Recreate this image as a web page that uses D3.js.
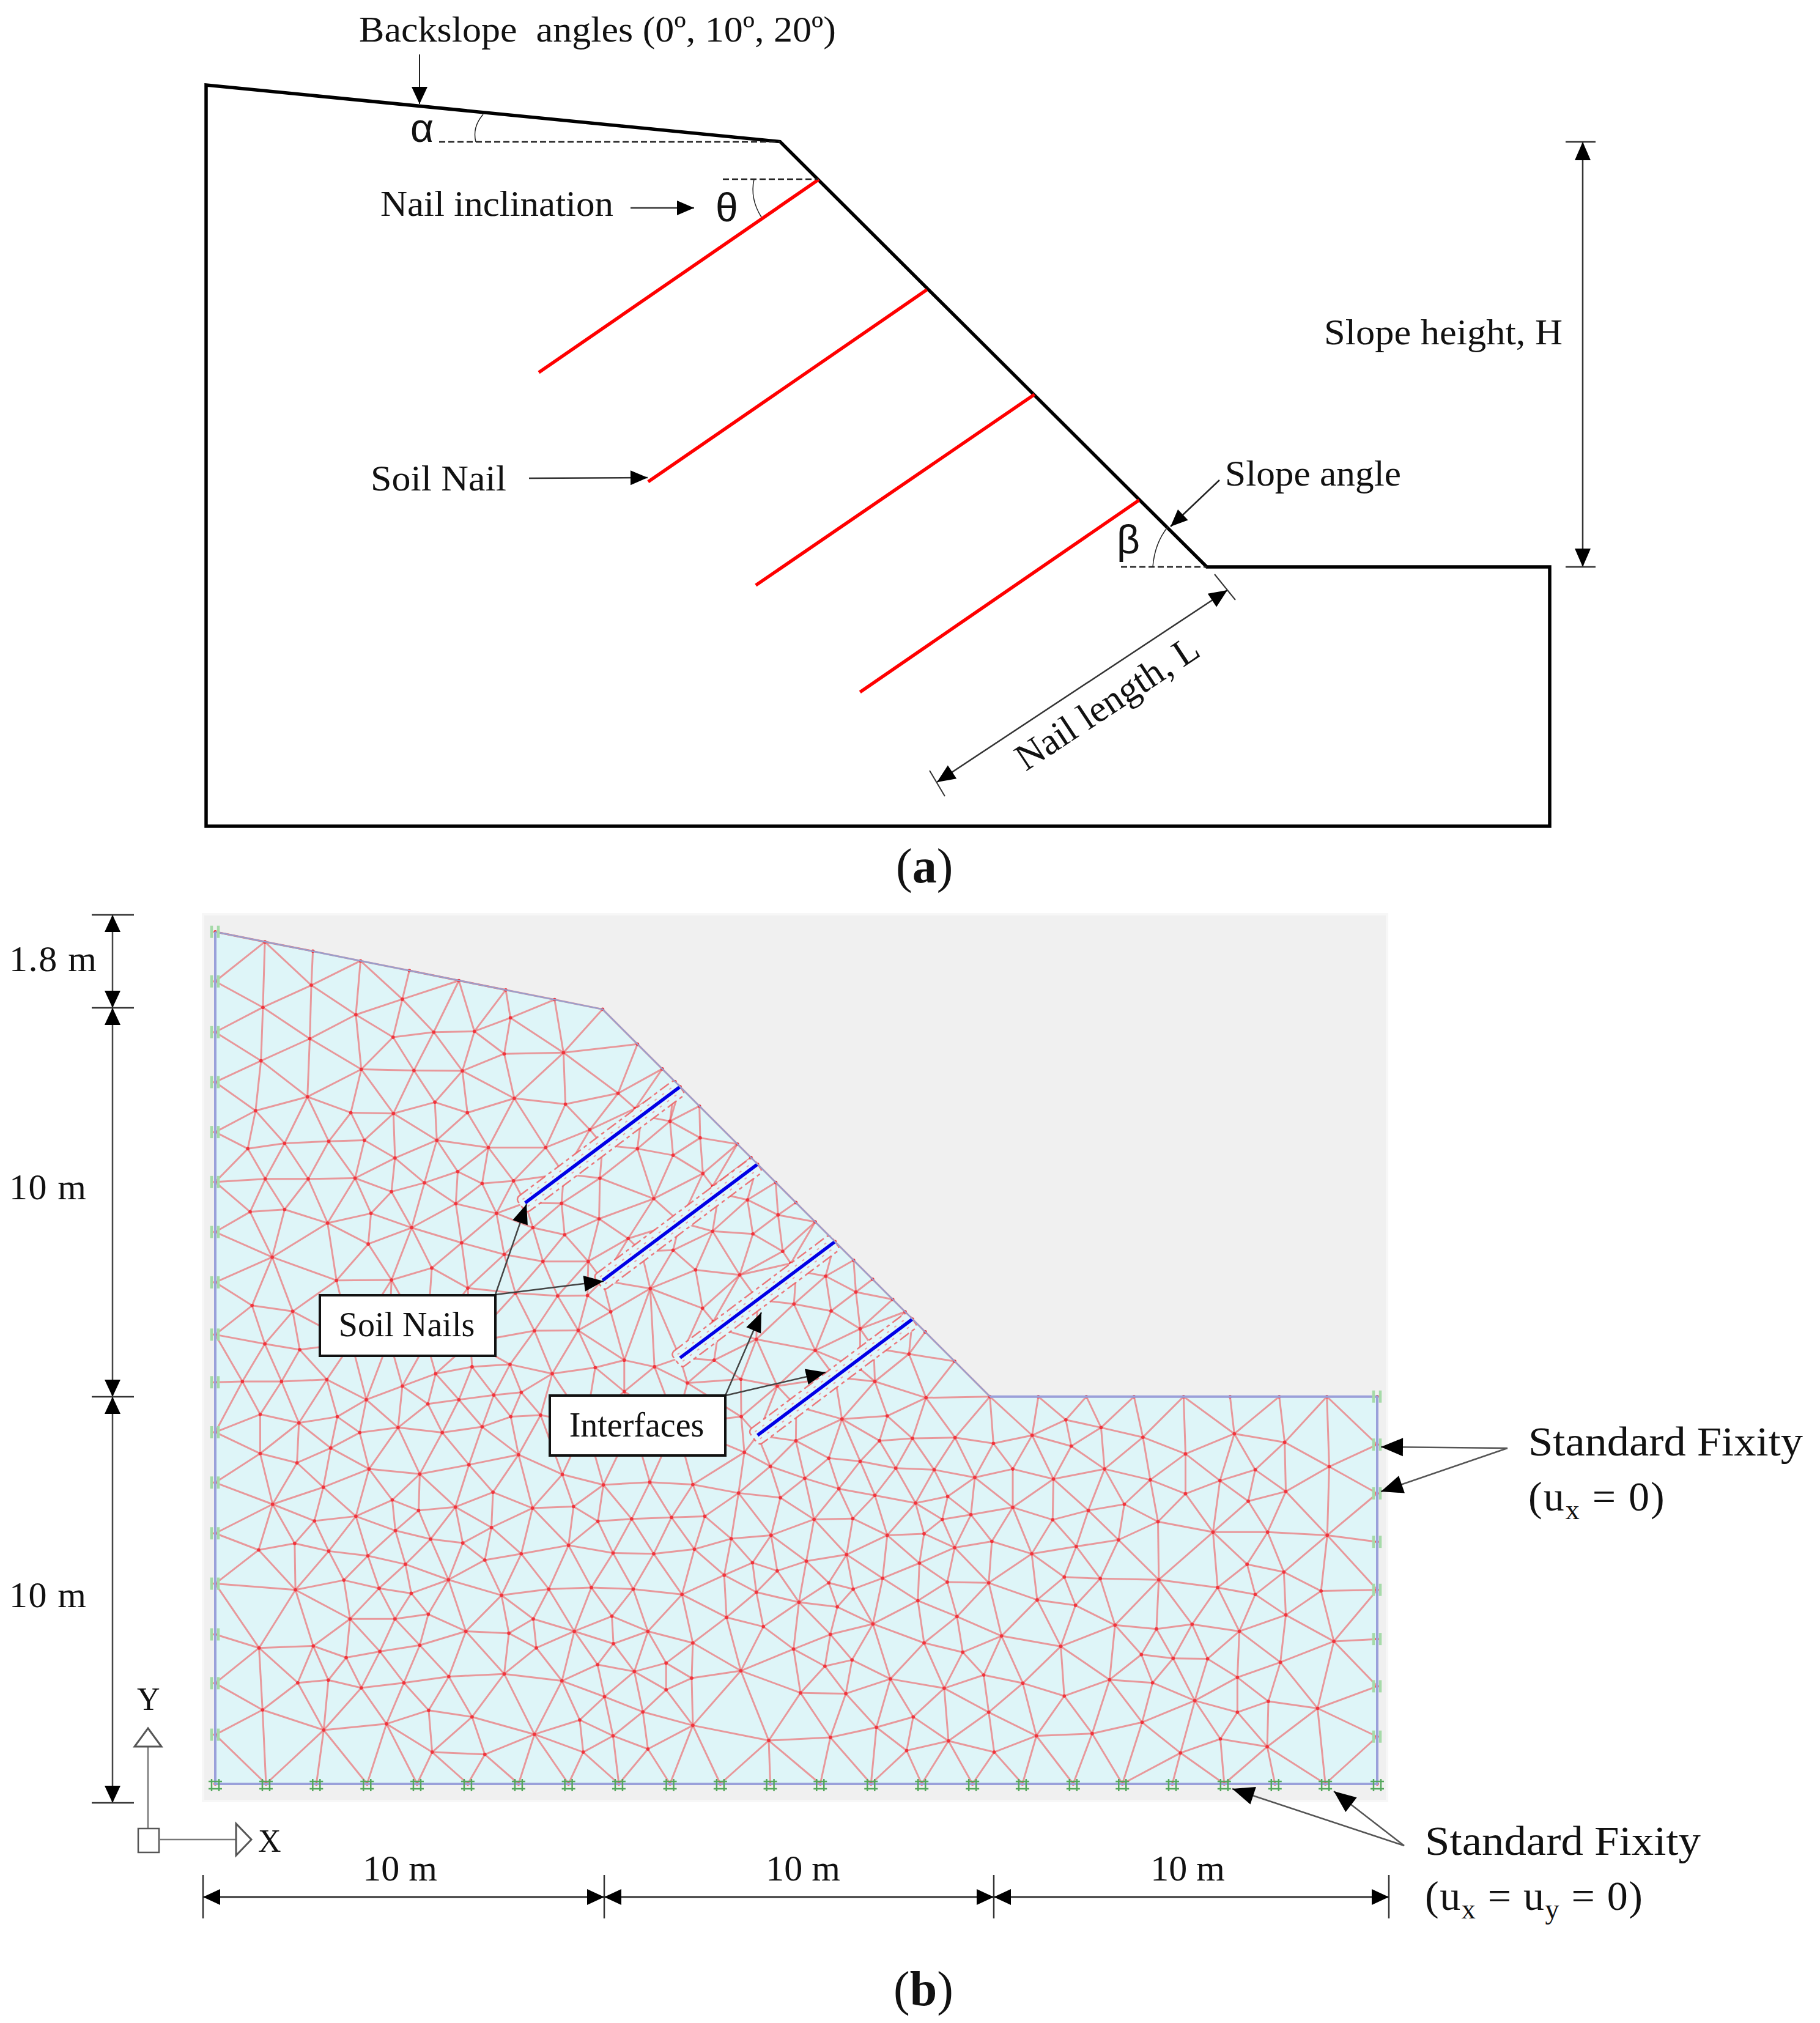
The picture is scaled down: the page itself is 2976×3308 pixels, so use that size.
<!DOCTYPE html>
<html>
<head>
<meta charset="utf-8">
<script src="https://cdn.jsdelivr.net/npm/d3@7"></script>
<style>
  body { margin: 0; background: #fff; }
  text { font-family: "Liberation Serif", serif; fill: #111; white-space: pre; }
  .greek { font-family: "Liberation Sans", sans-serif; }
</style>
</head>
<body>
<div id="fig"></div>
<script>
// panel (a) geometry, in metres from the lower left corner of the sketch
var slopeOutline = [[0, 17.41], [13.49, 16.08], [23.52, 6.09], [31.58, 6.09], [31.58, 0], [0, 0]];
var sketchNails = [
  [[14.40, 15.19], [7.82, 10.66]],
  [[16.94, 12.60], [10.39, 8.09]],
  [[19.47, 10.14], [12.92, 5.66]],
  [[21.93, 7.66], [15.37, 3.15]]
];

// panel (b) model, in metres
var modelOutline = [[0, 0], [0, 22], [10, 20], [20, 10], [30, 10], [30, 0]];
var modelNails = [
  [[8, 15], [12, 18]],
  [[10, 13], [14, 16]],
  [[12, 11], [16, 14]],
  [[14, 9], [18, 12]]
];
var nailNodes = [
  [8, 15], [9, 15.75], [10, 16.5], [11, 17.25],
  [10, 13], [11, 13.75], [12, 14.5], [13, 15.25],
  [12, 11], [13, 11.75], [14, 12.5], [15, 13.25],
  [14, 9], [15, 9.75], [16, 10.5], [17, 11.25]
];
var leftY = [22, 20.72, 19.41, 18.12, 16.83, 15.54, 14.25, 12.95, 11.60, 10.37, 9.08, 7.78, 6.47, 5.17, 3.86, 2.60, 1.27];
var rightY = [10, 8.76, 7.50, 6.25, 5.01, 3.74, 2.52, 1.22];
var bottomX = [0, 1.31, 2.61, 3.92, 5.21, 6.52, 7.83, 9.12, 10.42, 11.74, 13.04, 14.33, 15.62, 16.93, 18.24, 19.55, 20.84, 22.15, 23.42, 24.71, 26.05, 27.36, 28.66, 30];
var crestNodes = [[1.28, 21.74], [2.52, 21.50], [3.75, 21.25], [5.01, 21.00], [6.29, 20.74], [7.50, 20.50], [8.76, 20.25], [10, 20]];
var slopeNodes = [[10.90, 19.10], [11.54, 18.46], [11.87, 18.13], [12, 18], [12.50, 17.50], [13.48, 16.52], [13.83, 16.17], [14, 16], [14.47, 15.53], [14.99, 15.01], [15.49, 14.51], [16, 14], [16.48, 13.52], [16.97, 13.03], [17.49, 12.51], [17.81, 12.19], [18, 12], [18.33, 11.67], [19.09, 10.91], [20, 10]];
var benchNodes = [[21.25, 10], [22.49, 10], [23.72, 10], [25.00, 10], [26.20, 10], [27.47, 10], [28.70, 10]];
var upperNodes = [
  [1.23, 20.05], [2.48, 20.62], [3.63, 19.86], [4.83, 20.26], [2.44, 19.24], [1.18, 18.67], [3.77, 18.45], [4.59, 19.28], [5.64, 19.41], [6.69, 19.43],
  [7.62, 19.78], [7.46, 18.85], [8.99, 18.88], [5.13, 18.42], [6.38, 18.41], [2.38, 17.74], [1.04, 17.38], [3.50, 17.33], [4.60, 17.31], [5.67, 17.60],
  [6.51, 17.33], [7.72, 17.70], [9.04, 17.55], [10.40, 17.83], [11.74, 17.11], [1.79, 16.54], [0.84, 16.40], [2.93, 16.59], [3.85, 16.62], [5.72, 16.62],
  [7.05, 16.43], [8.53, 16.43], [4.64, 16.16], [1.29, 15.62], [2.40, 15.62], [3.61, 15.64], [6.26, 15.81], [5.40, 15.52], [6.89, 15.50], [7.70, 15.57],
  [4.55, 15.29], [0.90, 14.77], [1.79, 14.83], [2.90, 14.48], [4.02, 14.73], [5.07, 14.36], [6.21, 14.98], [7.26, 14.73], [8.20, 14.36], [8.94, 14.99],
  [9.02, 14.18], [9.91, 14.59], [9.93, 15.64], [10.90, 16.40], [11.82, 16.23], [9.67, 16.89], [10.84, 17.44], [11.32, 15.11], [6.36, 13.97], [3.95, 13.94],
  [1.47, 13.60], [7.46, 13.67], [8.46, 13.49], [9.63, 13.49], [10.66, 14.08], [11.82, 13.78], [5.59, 13.32], [6.52, 12.80], [4.55, 13.01], [3.13, 13.00],
  [7.75, 12.67], [8.84, 12.60], [9.61, 12.61], [11.23, 12.79], [10.21, 12.19], [0.95, 12.35], [2.00, 12.20], [8.24, 11.70], [9.37, 11.71],
  [12.52, 16.68], [12.59, 15.76], [12.84, 15.43], [13.74, 15.08], [14.53, 14.69], [12.84, 14.27], [13.88, 14.20], [14.65, 13.75], [14.86, 13.44], [12.40, 13.27],
  [13.54, 13.14], [15.76, 13.11], [16.54, 12.70], [14.94, 12.39], [12.58, 12.28], [15.90, 12.21], [16.65, 11.75], [12.86, 11.94],
  [3.52, 11.39], [4.49, 11.48], [5.46, 11.40], [6.59, 11.40], [9.57, 9.30], [10.78, 9.30], [11.90, 9.30]
];
var lowerLeftNodes = [
  [1.28, 11.36], [2.18, 11.21], [2.88, 10.44], [0.70, 10.39], [1.71, 10.39], [3.90, 9.92], [1.16, 9.54], [2.16, 9.32], [3.15, 9.48], [4.83, 10.27],
  [5.69, 10.59], [6.63, 10.77], [7.61, 10.83], [8.70, 10.59], [9.81, 10.75], [10.56, 10.94], [11.34, 10.77], [10.56, 10.13], [6.29, 9.92], [7.19, 10.04],
  [7.90, 10.11], [5.49, 9.81], [7.63, 9.48], [8.40, 9.52], [4.72, 9.20], [3.73, 9.07], [5.86, 9.07], [6.89, 9.22], [1.16, 8.53], [2.11, 8.29],
  [2.98, 8.67], [3.97, 8.13], [5.28, 8.00], [6.55, 8.24], [7.83, 8.50], [8.96, 7.99], [10.02, 7.72], [11.22, 7.79], [2.79, 7.66], [1.48, 7.22],
  [2.56, 6.79], [3.63, 6.91], [4.57, 7.33], [5.25, 7.06], [6.20, 7.15], [7.17, 7.53], [8.19, 7.12], [9.25, 7.16], [9.88, 6.78], [10.75, 6.84],
  [11.78, 6.88], [4.65, 6.54], [5.56, 6.32], [6.39, 6.22], [7.13, 6.62], [1.12, 6.04], [2.05, 6.21], [2.93, 6.01], [3.94, 5.89], [4.91, 5.67],
  [6.96, 5.78], [7.90, 5.94], [9.12, 6.16], [10.27, 5.96], [11.32, 5.94], [6.02, 5.27], [3.32, 5.26], [2.07, 5.01], [4.23, 5.05], [5.06, 4.92],
  [7.39, 4.87], [8.61, 5.03], [9.71, 5.07], [10.79, 5.03], [3.48, 4.26], [4.64, 4.26], [5.50, 4.38], [8.21, 4.26], [9.27, 3.94], [10.24, 4.33],
  [11.17, 3.94], [1.13, 3.51], [2.53, 3.56], [6.47, 3.94], [7.58, 3.89], [5.28, 3.58], [4.25, 3.42], [3.38, 3.26], [8.29, 3.51], [10.28, 3.62],
  [2.13, 2.61], [2.92, 2.68], [3.77, 2.48], [4.87, 2.61], [6.03, 2.77], [7.46, 2.84], [8.95, 2.66], [9.87, 3.08], [10.82, 2.90], [11.64, 3.12],
  [11.64, 2.43], [1.22, 1.91], [5.51, 1.90], [6.63, 1.73], [10.05, 2.25], [11.04, 1.86], [2.80, 1.39], [4.42, 1.55], [8.24, 1.28], [9.41, 1.65],
  [10.27, 1.24], [5.60, 0.82], [6.96, 0.76], [9.50, 0.82], [11.17, 0.90]
];
var lowerMiddleNodes = [
  [13.97, 11.48], [15.49, 11.19], [17.91, 11.10], [12.88, 10.94], [17.03, 10.39], [16.65, 10.71], [12.19, 10.35], [13.57, 10.45], [14.51, 10.27], [18.35, 9.97],
  [16.18, 9.42], [17.35, 9.50], [13.58, 9.48], [14.99, 8.86], [17.15, 8.86], [18.00, 8.92], [19.10, 8.94], [20.09, 8.79], [21.09, 9.00], [21.96, 9.40],
  [22.87, 9.20], [22.10, 8.72], [13.66, 8.56], [15.84, 8.41], [16.65, 8.33], [17.57, 8.15], [18.56, 8.11], [19.61, 7.91], [20.59, 8.13], [21.64, 7.87],
  [22.96, 8.13], [14.33, 8.20], [15.22, 7.89], [16.10, 7.62], [17.03, 7.45], [18.08, 7.25], [18.91, 7.42], [12.33, 7.73], [13.51, 7.51], [14.59, 7.39],
  [23.47, 7.22], [22.54, 7.06], [20.59, 7.14], [19.51, 6.95], [18.77, 6.83], [21.62, 6.82], [12.64, 6.91], [15.46, 6.83], [16.46, 6.85], [14.35, 6.42],
  [17.35, 6.42], [18.30, 6.46], [13.32, 6.33], [12.37, 6.06], [20.05, 6.26], [19.09, 6.10], [21.08, 5.94], [22.23, 6.13], [23.32, 6.30], [16.30, 5.92],
  [15.26, 5.75], [13.87, 5.71], [18.18, 5.70], [14.51, 5.50], [13.14, 5.39], [17.23, 5.31], [18.90, 5.21], [19.97, 5.19], [21.92, 5.34], [22.85, 5.30],
  [15.84, 5.19], [16.47, 5.03], [13.97, 4.95], [12.05, 4.89], [15.07, 4.69], [16.06, 4.57], [18.14, 4.73], [21.22, 4.75], [22.21, 4.61], [13.20, 4.30],
  [16.98, 4.13], [19.15, 4.32], [23.23, 4.10], [14.15, 4.06], [15.88, 3.86], [20.30, 3.82], [18.30, 3.64], [21.83, 3.55], [12.33, 3.64], [14.93, 3.48],
  [19.30, 3.40], [16.44, 3.20], [15.74, 3.04], [13.57, 2.92], [19.84, 2.81], [12.30, 2.73], [17.43, 2.71], [20.85, 2.60], [23.09, 2.69], [18.82, 2.47],
  [15.11, 2.35], [16.28, 2.33], [21.92, 2.27], [19.97, 1.85], [18.02, 1.73], [12.33, 1.51], [17.07, 1.46], [15.88, 1.20], [14.29, 1.12], [21.20, 1.24],
  [22.64, 1.30], [18.93, 1.11], [17.85, 0.86], [20.11, 0.82]
];
var lowerRightNodes = [
  [23.95, 8.95], [25.05, 8.52], [26.31, 9.04], [27.61, 8.82], [28.76, 8.19], [24.14, 7.85], [25.05, 7.49], [25.94, 7.83], [26.85, 8.11], [26.67, 7.30],
  [27.64, 7.55], [24.34, 6.77], [25.76, 6.50], [27.17, 6.50], [28.71, 6.42], [26.64, 5.67], [27.59, 5.47], [24.36, 5.27], [25.88, 5.07], [26.85, 4.89],
  [28.55, 4.98], [24.30, 4.00], [25.22, 4.12], [26.44, 3.94], [27.64, 4.36], [28.88, 3.68], [23.91, 3.34], [24.73, 3.24], [25.62, 3.23], [27.50, 3.14],
  [24.20, 2.61], [26.39, 2.75], [25.29, 2.15], [27.19, 2.13], [26.39, 1.85], [28.46, 1.95], [23.93, 1.59], [25.95, 1.16], [27.16, 0.96], [24.92, 0.80]
];

var W = 2976, H = 3308;
var svg = d3.select("#fig").append("svg").attr("width", W).attr("height", H).style("display", "block");

var xA = d3.scaleLinear().domain([0, 31.58]).range([337, 2534]);
var yA = d3.scaleLinear().domain([0, 17.41]).range([1351, 139]);
var xB = d3.scaleLinear().domain([0, 30]).range([352, 2252]);
var yB = d3.scaleLinear().domain([0, 22]).range([2917, 1523.7]);

var lineA = d3.line().x(function(d) { return xA(d[0]); }).y(function(d) { return yA(d[1]); });
var lineB = d3.line().x(function(d) { return xB(d[0]); }).y(function(d) { return yB(d[1]); });

function label(txt, x, y, size, anchor) {
  return svg.append("text").attr("x", x).attr("y", y).attr("font-size", size)
    .attr("text-anchor", anchor || "start").text(txt);
}
function seg(x1, y1, x2, y2, color, w, dash) {
  return svg.append("line").attr("x1", x1).attr("y1", y1).attr("x2", x2).attr("y2", y2)
    .attr("stroke", color).attr("stroke-width", w).attr("stroke-dasharray", dash || null);
}
// arrow head with its tip at x2,y2
function head(x1, y1, x2, y2, len, wid, fill, stroke) {
  var a = Math.atan2(y2 - y1, x2 - x1);
  var bx = x2 - len * Math.cos(a), by = y2 - len * Math.sin(a);
  var nx = -Math.sin(a) * wid / 2, ny = Math.cos(a) * wid / 2;
  return svg.append("path")
    .attr("d", "M" + x2 + "," + y2 + "L" + (bx + nx) + "," + (by + ny) + "L" + (bx - nx) + "," + (by - ny) + "Z")
    .attr("fill", fill || "#000").attr("stroke", stroke || "none").attr("stroke-width", stroke ? 3 : 0);
}
function arrow(x1, y1, x2, y2, color, w, len, wid) {
  seg(x1, y1, x2, y2, color, w);
  head(x1, y1, x2, y2, len, wid);
}

// ---------- panel (a) ----------
svg.append("path").attr("d", lineA(slopeOutline) + "Z")
  .attr("fill", "none").attr("stroke", "#000").attr("stroke-width", 5.5);
svg.selectAll("line.sketchNail").data(sketchNails).enter().append("line")
  .attr("class", "sketchNail")
  .attr("x1", function(d) { return xA(d[0][0]); }).attr("y1", function(d) { return yA(d[0][1]); })
  .attr("x2", function(d) { return xA(d[1][0]); }).attr("y2", function(d) { return yA(d[1][1]); })
  .attr("stroke", "#f00").attr("stroke-width", 5.5);

label("Backslope  angles (0º, 10º, 20º)", 587, 68, 60).attr("textLength", 780).attr("lengthAdjust", "spacingAndGlyphs");
arrow(686, 89, 686, 170, "#222", 2, 28, 26);
label("α", 671, 232, 66).attr("class", "greek");
seg(718, 232, 1275, 232, "#222", 2.5, "10 5");
svg.append("path").attr("d", "M790,187Q772,208 778,232").attr("fill", "none").attr("stroke", "#222").attr("stroke-width", 1.5);

label("Nail inclination", 622, 353, 60).attr("textLength", 381).attr("lengthAdjust", "spacingAndGlyphs");
arrow(1031, 340, 1135, 340, "#333", 2.5, 28, 24);
label("θ", 1170, 362, 66).attr("class", "greek");
seg(1182, 293, 1338, 293, "#222", 2.5, "10 5");
svg.append("path").attr("d", "M1233,293Q1226,325 1245,355").attr("fill", "none").attr("stroke", "#222").attr("stroke-width", 1.5);

label("Soil Nail", 606, 802, 60).attr("textLength", 222).attr("lengthAdjust", "spacingAndGlyphs");
arrow(865, 782, 1059, 781, "#333", 2.5, 28, 24);

label("Slope height, H", 2165, 563, 60).attr("textLength", 390).attr("lengthAdjust", "spacingAndGlyphs");
seg(2588, 232, 2588, 927, "#333", 2.5);
head(2588, 927, 2588, 232, 30, 26);
head(2588, 232, 2588, 927, 30, 26);
seg(2560, 232, 2609, 232, "#333", 2.5);
seg(2560, 927, 2609, 927, "#333", 2.5);

label("Slope angle", 2003, 794, 60).attr("textLength", 288).attr("lengthAdjust", "spacingAndGlyphs");
arrow(1994, 785, 1914, 861, "#222", 2.5, 28, 24);
label("β", 1826, 905, 66).attr("class", "greek");
seg(1833, 927, 1973, 927, "#222", 2.5, "10 5");
svg.append("path").attr("d", "M1885,927Q1888,888 1910,861").attr("fill", "none").attr("stroke", "#222").attr("stroke-width", 1.5);

seg(2007, 965, 1532, 1279, "#333", 2.5);
head(1532, 1279, 2007, 965, 30, 26);
head(2007, 965, 1532, 1279, 30, 26);
seg(1986, 939, 2020, 981, "#333", 2);
seg(1520, 1260, 1545, 1302, "#333", 2);
svg.append("text").attr("transform", "translate(1816,1158) rotate(-33.5)")
  .attr("text-anchor", "middle").attr("y", 10).attr("font-size", 62).text("Nail length, L");

var capA = label("(", 1465, 1443, 80);
capA.append("tspan").attr("font-weight", "bold").text("a");
capA.append("tspan").text(")");

// ---------- panel (b) ----------
svg.append("rect").attr("x", 332).attr("y", 1495).attr("width", 1936).attr("height", 1450)
  .attr("fill", "#f0f0f0").attr("stroke", "#f7f7f7").attr("stroke-width", 4);
svg.append("path").attr("d", lineB(modelOutline) + "Z").attr("fill", "#def5f8");

var meshPoints = leftY.map(function(y) { return [0, y]; })
  .concat(rightY.map(function(y) { return [30, y]; }))
  .concat(bottomX.map(function(x) { return [x, 0]; }))
  .concat(crestNodes, slopeNodes, benchNodes, nailNodes, upperNodes, lowerLeftNodes, lowerMiddleNodes, lowerRightNodes);

// triangulate the mesh nodes and keep the triangles that fall inside the model
var delaunay = d3.Delaunay.from(meshPoints);
var seen = {}, meshEdges = [];
for (var t = 0; t < delaunay.triangles.length; t += 3) {
  var ids = [delaunay.triangles[t], delaunay.triangles[t + 1], delaunay.triangles[t + 2]];
  var cx = d3.mean(ids, function(i) { return meshPoints[i][0]; });
  var cy = d3.mean(ids, function(i) { return meshPoints[i][1]; });
  if (!d3.polygonContains(modelOutline, [cx, cy])) continue;
  [[ids[0], ids[1]], [ids[1], ids[2]], [ids[2], ids[0]]].forEach(function(e) {
    var key = Math.min(e[0], e[1]) + "_" + Math.max(e[0], e[1]);
    if (!seen[key]) { seen[key] = true; meshEdges.push(e); }
  });
}
svg.append("g").selectAll("line").data(meshEdges).enter().append("line")
  .attr("x1", function(e) { return xB(meshPoints[e[0]][0]); })
  .attr("y1", function(e) { return yB(meshPoints[e[0]][1]); })
  .attr("x2", function(e) { return xB(meshPoints[e[1]][0]); })
  .attr("y2", function(e) { return yB(meshPoints[e[1]][1]); })
  .attr("stroke", "#ee5a5e").attr("stroke-opacity", 0.6).attr("stroke-width", 3);
svg.append("g").selectAll("circle").data(meshPoints).enter().append("circle")
  .attr("cx", function(d) { return xB(d[0]); })
  .attr("cy", function(d) { return yB(d[1]); })
  .attr("r", 2.8).attr("fill", "#f0343c");

// soil nails and their interfaces
var nailG = svg.append("g");
modelNails.forEach(function(n) {
  var x1 = xB(n[0][0]), y1 = yB(n[0][1]), x2 = xB(n[1][0]), y2 = yB(n[1][1]);
  var len = Math.hypot(x2 - x1, y2 - y1), ang = Math.atan2(y2 - y1, x2 - x1) * 180 / Math.PI;
  var g = nailG.append("g").attr("transform", "translate(" + x1 + "," + y1 + ") rotate(" + ang + ")");
  g.append("rect").attr("x", -8).attr("y", -15).attr("width", len + 8).attr("height", 30).attr("rx", 7)
    .attr("fill", "#e2f6f8").attr("stroke", "#ee5a5e").attr("stroke-opacity", 0.8).attr("stroke-width", 2.5)
    .attr("stroke-dasharray", "18 6 6 6");
  [-7, 7].forEach(function(o) {
    g.append("line").attr("x1", 0).attr("x2", len).attr("y1", o).attr("y2", o)
      .attr("stroke", "#ee5a5e").attr("stroke-opacity", 0.5).attr("stroke-width", 2).attr("stroke-dasharray", "4 11");
  });
  nailG.append("line").attr("x1", x1).attr("y1", y1).attr("x2", x2).attr("y2", y2)
    .attr("stroke", "#0000e6").attr("stroke-width", 5.5);
});

// model boundary
var boundary = svg.append("g").attr("fill", "none");
boundary.append("path").attr("d", lineB([[0, 22], [10, 20], [20, 10]])).attr("stroke", "#9a9fcc").attr("stroke-width", 2.5);
boundary.append("path").attr("d", lineB([[20, 10], [30, 10], [30, 0], [0, 0], [0, 22]])).attr("stroke", "#9aa0da").attr("stroke-width", 4);

// fixities: pale bars on the sides, green hashes along the base
var fixity = svg.append("g");
var sideFix = leftY.map(function(y) { return [0, y]; }).concat(rightY.map(function(y) { return [30, y]; }));
sideFix.forEach(function(d) {
  [-6, 5].forEach(function(o) {
    fixity.append("line").attr("x1", xB(d[0]) + o).attr("x2", xB(d[0]) + o)
      .attr("y1", yB(d[1]) - 10).attr("y2", yB(d[1]) + 10)
      .attr("stroke", "#a6dba9").attr("stroke-width", 4.5);
  });
});
bottomX.forEach(function(x) {
  [-6, 6].forEach(function(o) {
    fixity.append("line").attr("x1", xB(x) + o).attr("x2", xB(x) + o)
      .attr("y1", yB(0) - 8).attr("y2", yB(0) + 12)
      .attr("stroke", "#55a85c").attr("stroke-width", 2.5);
  });
  [-4, 8].forEach(function(o) {
    fixity.append("line").attr("x1", xB(x) - 11).attr("x2", xB(x) + 11)
      .attr("y1", yB(0) + o).attr("y2", yB(0) + o)
      .attr("stroke", "#55a85c").attr("stroke-width", 2.5);
  });
});

// callout boxes
function box(x, y, w, h) {
  svg.append("rect").attr("x", x).attr("y", y).attr("width", w).attr("height", h)
    .attr("fill", "#fff").attr("stroke", "#111").attr("stroke-width", 4);
}
arrow(810, 2117, 861, 1969, "#444", 2.5, 32, 26);
arrow(810, 2117, 987, 2095, "#444", 2.5, 32, 26);
arrow(1186, 2282, 1245, 2146, "#444", 2.5, 32, 26);
arrow(1186, 2282, 1350, 2244, "#444", 2.5, 32, 26);
box(523, 2118, 287, 99);
label("Soil Nails", 665, 2185, 56, "middle");
box(899, 2282, 287, 98);
label("Interfaces", 1041, 2349, 56, "middle");

// dimension lines on the left
var dimYs = [1496, 1648, 2284, 2948];
dimYs.forEach(function(y) { seg(150, y, 219, y, "#333", 2.5); });
d3.pairs(dimYs).forEach(function(p) {
  seg(184, p[0], 184, p[1], "#444", 2.5);
  head(184, p[1], 184, p[0], 28, 26);
  head(184, p[0], 184, p[1], 28, 26);
});
label("1.8 m", 15, 1588, 60).attr("textLength", 143).attr("lengthAdjust", "spacing");
label("10 m", 15, 1961, 60).attr("textLength", 126).attr("lengthAdjust", "spacing");
label("10 m", 15, 2628, 60).attr("textLength", 126).attr("lengthAdjust", "spacing");

// dimension lines along the base
var dimXs = [332, 988, 1625, 2271];
dimXs.forEach(function(x) { seg(x, 3066, x, 3137, "#333", 2.5); });
d3.pairs(dimXs).forEach(function(p) {
  seg(p[0], 3102, p[1], 3102, "#333", 3);
  head(p[1], 3102, p[0], 3102, 28, 26);
  head(p[0], 3102, p[1], 3102, 28, 26);
});
label("10 m", 654, 3075, 60, "middle");
label("10 m", 1313, 3075, 60, "middle");
label("10 m", 1942, 3075, 60, "middle");

// axis glyph
seg(242, 2989, 242, 2850, "#777", 2.5);
head(242, 2856, 242, 2826, 30, 44, "#fff", "#555");
svg.append("rect").attr("x", 226).attr("y", 2990).attr("width", 34).attr("height", 39)
  .attr("fill", "#fff").attr("stroke", "#555").attr("stroke-width", 2.5);
seg(260, 3008, 395, 3008, "#777", 2.5);
head(386, 3008, 411, 3008, 25, 52, "#fff", "#555");
label("Y", 224, 2796, 52);
label("X", 422, 3028, 52);

// fixity notes
arrow(2465, 2368, 2258, 2366, "#555", 2.5, 36, 30);
arrow(2465, 2368, 2258, 2439, "#555", 2.5, 36, 30);
label("Standard Fixity", 2499, 2380, 68).attr("textLength", 449).attr("lengthAdjust", "spacingAndGlyphs");
var n1 = label("(u", 2499, 2470, 68).attr("letter-spacing", 2);
n1.append("tspan").attr("font-size", 46).attr("dy", 14).text("x");
n1.append("tspan").attr("dy", -14).text(" = 0)");

arrow(2296, 3018, 2015, 2925, "#555", 2.5, 36, 30);
arrow(2296, 3018, 2181, 2929, "#555", 2.5, 36, 30);
label("Standard Fixity", 2330, 3033, 68).attr("textLength", 451).attr("lengthAdjust", "spacingAndGlyphs");
var n2 = label("(u", 2330, 3123, 68).attr("letter-spacing", 1.5);
n2.append("tspan").attr("font-size", 46).attr("dy", 14).text("x");
n2.append("tspan").attr("dy", -14).text(" = u");
n2.append("tspan").attr("font-size", 46).attr("dy", 14).text("y");
n2.append("tspan").attr("dy", -14).text(" = 0)");

var capB = label("(", 1461, 3279, 80);
capB.append("tspan").attr("font-weight", "bold").text("b");
capB.append("tspan").text(")");
</script>
</body>
</html>
